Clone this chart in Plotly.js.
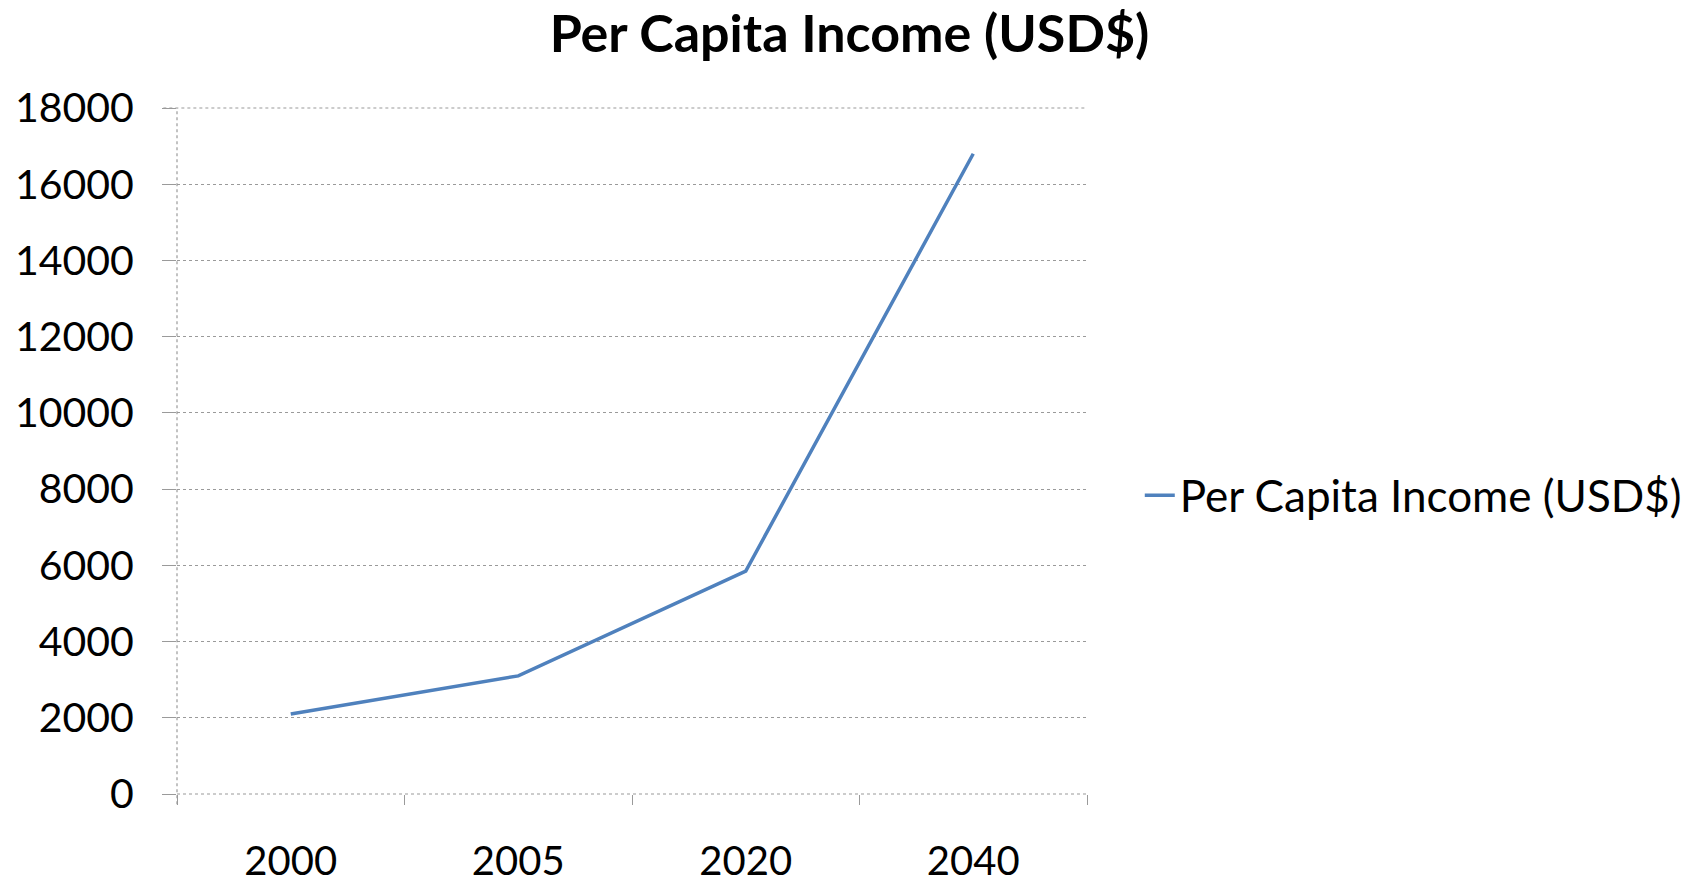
<!DOCTYPE html>
<html>
<head>
<meta charset="utf-8">
<script src="https://cdn.plot.ly/plotly-3.0.1.min.js"></script>
<style>html,body{margin:0;padding:0;background:#fff;}#chart{width:1699px;height:890px;}</style>
</head>
<body>
<div id="chart"></div>
<script>
const years = ["2000", "2005", "2020", "2040"];
const perCapitaIncome = [2100, 3100, 5850, 16800];
const seriesName = "Per Capita Income (USD$)";
const chartTitle = "Per Capita Income (USD$)";
const yTickValues = [0, 2000, 4000, 6000, 8000, 10000, 12000, 14000, 16000, 18000];

const FONT = "Lato, 'DejaVu Sans', sans-serif";
const GRID = "#9a9a9a";

const trace = {
  x: years,
  y: perCapitaIncome,
  type: "scatter",
  mode: "lines",
  name: seriesName,
  line: {color: "#4F81BD", width: 3.5},
  showlegend: true
};

const layout = {
  width: 1699,
  height: 890,
  paper_bgcolor: "#fff",
  plot_bgcolor: "#fff",
  margin: {l: 177, r: 606, t: 108, b: 96, pad: 0},
  font: {family: FONT, color: "#000"},
  title: {
    text: "<b>" + chartTitle + "</b>",
    font: {family: FONT, size: 52, color: "#000"},
    x: 0.5, xanchor: "center", xref: "container",
    y: 0.962, yanchor: "middle", yref: "container"
  },
  xaxis: {
    type: "category",
    range: [-0.5, 3.5],
    tickson: "boundaries",
    ticks: "outside",
    ticklen: 10,
    tickcolor: GRID,
    tickwidth: 1,
    showgrid: false,
    showline: false,
    zeroline: false,
    tickfont: {family: FONT, size: 40, color: "#000"},
    ticklabelstandoff: 40,
    fixedrange: true
  },
  yaxis: {
    range: [0, 18000],
    tickvals: yTickValues,
    ticktext: yTickValues.map(String),
    ticks: "outside",
    ticklen: 14,
    tickcolor: GRID,
    showgrid: true,
    gridcolor: GRID,
    gridwidth: 1.2,
    griddash: "dot",
    zeroline: false,
    showline: false,
    tickfont: {family: FONT, size: 41, color: "#000"},
    ticklabelstandoff: 20,
    fixedrange: true
  },
  shapes: [
    {type: "line", xref: "paper", yref: "paper", x0: 0, x1: 0, y0: -0.015, y1: 1,
     line: {color: GRID, width: 1.2, dash: "dot"}},
    {type: "line", xref: "paper", yref: "paper", x0: 0, x1: 1, y0: 0, y1: 0,
     line: {color: GRID, width: 1.2, dash: "dot"}},
    {type: "line", xref: "paper", yref: "paper", x0: -0.015, x1: 1, y0: 1, y1: 1,
     line: {color: GRID, width: 1.2, dash: "dot"}}
  ],
  legend: {
    x: 1.058, xanchor: "left", xref: "paper",
    y: 0.435, yanchor: "middle",
    font: {family: FONT, size: 44, color: "#000"},
    bgcolor: "rgba(0,0,0,0)",
    borderwidth: 0,
    itemwidth: 30
  },
  showlegend: true
};

Plotly.newPlot("chart", [trace], layout, {displayModeBar: false, staticPlot: true});
</script>
</body>
</html>
